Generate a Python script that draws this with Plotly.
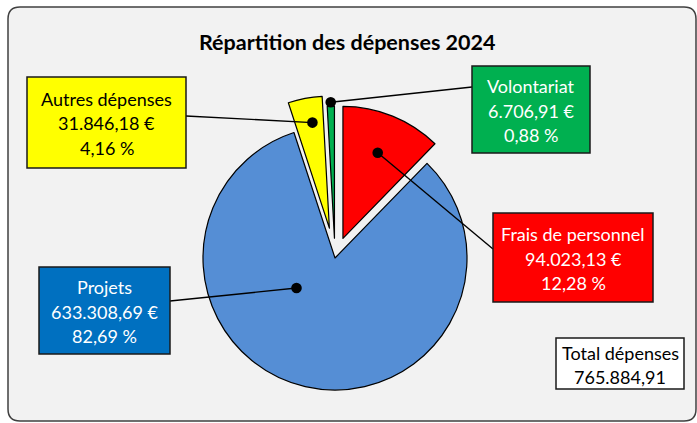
import math
import plotly.graph_objects as go

W, H = 697, 423

# ---------------- data ----------------
title_text = "Répartition des dépenses 2024"
categories = ["Frais de personnel", "Projets", "Autres dépenses", "Volontariat"]
values = [94023.13, 633308.69, 31846.18, 6706.91]
total_label = "Total dépenses"

# ---------------- styles ----------------
slice_colors = ["#FF0000", "#558ED5", "#FFFF00", "#00B050"]
box_colors = ["#FF0000", "#0070C0", "#FFFF00", "#00B050"]
text_colors = ["#FFFFFF", "#FFFFFF", "#000000", "#FFFFFF"]
pulls = [0.16, 0.0, 0.23, 0.15]

FONT = "Lato"
total = sum(values)


def fr(v, dec=2):
    s = f"{v:,.{dec}f}"
    return s.replace(",", "X").replace(".", ",").replace("X", ".")


def px(x):
    return x / W


def py(y):
    return 1 - y / H


# pie geometry (pixels)
CX, CY, R = 335, 258, 132
half = R * (1 + max(pulls))

# label boxes (pixels): x0, y0, x1, y1
boxes = [(493, 213, 653, 302), (39, 267, 170, 354), (27, 77, 186, 168), (472, 66, 590, 153)]
line_starts = [(493, 249), (170, 301), (186, 116), (472, 87)]
dot_params = [(0, 0.70), (39, 0.37), (1.5, 0.81), (0, 1.03)]  # angle offset, radius fraction
total_box = (556, 338, 684, 389)

fig = go.Figure()
fig.add_trace(go.Pie(
    labels=categories, values=values, sort=False, direction="clockwise", rotation=0,
    pull=pulls, textinfo="none", hoverinfo="label+value+percent", showlegend=False,
    marker=dict(colors=slice_colors, line=dict(color="#000000", width=1.2)),
    domain=dict(x=[px(CX - half), px(CX + half)], y=[py(CY + half), py(CY - half)]),
))

shapes = []
# background rounded rectangle
x0, y0, x1, y1, rr = 8, 7, 696, 421, 12
path = (f"M {px(x0 + rr)} {py(y0)} L {px(x1 - rr)} {py(y0)} Q {px(x1)} {py(y0)} {px(x1)} {py(y0 + rr)} "
        f"L {px(x1)} {py(y1 - rr)} Q {px(x1)} {py(y1)} {px(x1 - rr)} {py(y1)} "
        f"L {px(x0 + rr)} {py(y1)} Q {px(x0)} {py(y1)} {px(x0)} {py(y1 - rr)} "
        f"L {px(x0)} {py(y0 + rr)} Q {px(x0)} {py(y0)} {px(x0 + rr)} {py(y0)} Z")
shapes.append(dict(type="path", path=path, xref="paper", yref="paper", layer="below",
                   fillcolor="#F2F2F2", line=dict(color="#404040", width=1.5)))

annotations = [dict(text=f"<b>{title_text}</b>", x=px(347), y=py(42), xref="paper", yref="paper",
                    xanchor="center", yanchor="middle", showarrow=False,
                    font=dict(family=FONT, size=21.5, color="#000000"))]

cum = 0
for i, v in enumerate(values):
    start = cum / total * 360
    mid = start + v / total * 180
    cum += v
    th = math.radians(mid)
    ax_ = CX + pulls[i] * R * math.sin(th)
    ay_ = CY - pulls[i] * R * math.cos(th)
    off, frac = dot_params[i]
    th2 = math.radians(mid + off)
    dx = ax_ + frac * R * math.sin(th2)
    dy = ay_ - frac * R * math.cos(th2)
    lx, ly = line_starts[i]
    shapes.append(dict(type="line", xref="paper", yref="paper", x0=px(lx), y0=py(ly), x1=px(dx), y1=py(dy),
                       line=dict(color="#000000", width=1.4), layer="above"))
    rd = 5.3
    shapes.append(dict(type="circle", xref="paper", yref="paper", x0=px(dx - rd), x1=px(dx + rd),
                       y0=py(dy + rd), y1=py(dy - rd), fillcolor="#000000", line=dict(width=0), layer="above"))
    bx0, by0, bx1, by1 = boxes[i]
    shapes.append(dict(type="rect", xref="paper", yref="paper", x0=px(bx0), x1=px(bx1), y0=py(by1), y1=py(by0),
                       fillcolor=box_colors[i], line=dict(color="#1A1A1A", width=1.5), layer="above"))
    lines = [categories[i], f"{fr(v)} €", f"{fr(v / total * 100)} %"]
    bcx, bcy = (bx0 + bx1) / 2, (by0 + by1) / 2
    for k, t in enumerate(lines):
        annotations.append(dict(text=t, x=px(bcx), y=py(bcy + (k - 1) * 24.5 + 1), xref="paper", yref="paper",
                                xanchor="center", yanchor="middle", showarrow=False,
                                font=dict(family=FONT, size=18, color=text_colors[i])))

bx0, by0, bx1, by1 = total_box
shapes.append(dict(type="rect", xref="paper", yref="paper", x0=px(bx0), x1=px(bx1), y0=py(by1), y1=py(by0),
                   fillcolor="#FFFFFF", line=dict(color="#1A1A1A", width=1.5), layer="above"))
bcx, bcy = (bx0 + bx1) / 2, (by0 + by1) / 2
for k, t in enumerate([total_label, fr(total)]):
    annotations.append(dict(text=t, x=px(bcx), y=py(bcy + (k - 0.5) * 24 + 1), xref="paper", yref="paper",
                            xanchor="center", yanchor="middle", showarrow=False,
                            font=dict(family=FONT, size=18, color="#000000")))

fig.update_layout(width=W, height=H, margin=dict(l=0, r=0, t=0, b=0), paper_bgcolor="#FFFFFF",
                  plot_bgcolor="#FFFFFF", shapes=shapes, annotations=annotations, showlegend=False)
fig.write_html("out.html", config={"displayModeBar": False},
               post_script="document.body.style.margin='0';document.body.style.padding='0';")
